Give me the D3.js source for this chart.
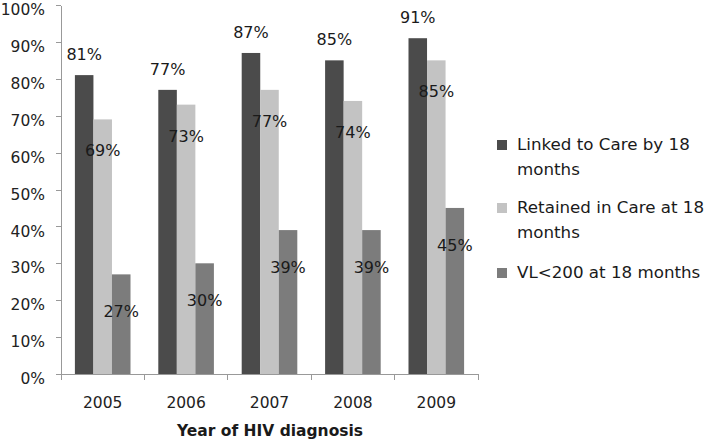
<!DOCTYPE html>
<html lang="en">
<head>
<meta charset="utf-8" />
<title>Care cascade by year of HIV diagnosis</title>
<script src="https://d3js.org/d3.v7.min.js"></script>
<style>
  body{margin:0;background:#fff;font-family:"DejaVu Sans",sans-serif;}
  svg{display:block;}
  .axis path,.axis line{stroke:#999;stroke-width:1px;shape-rendering:crispEdges;}
  .axis text{fill:#222;font-size:15.5px;font-family:"DejaVu Sans",sans-serif;}
  .lbl{fill:#1a1a1a;font-size:16px;text-anchor:middle;}
  .legend text{fill:#1a1a1a;font-size:16.7px;}
</style>
</head>
<body>
<svg id="chart" width="712" height="446"></svg>
<script>
// -------- DATA --------
const YEARS=['2005','2006','2007','2008','2009'];
const SERIES=['Linked to Care by 18 months','Retained in Care at 18 months','VL<200 at 18 months'];
const LINKED=[81,77,87,85,91];
const RETAINED=[69,73,77,74,85];
const VL200=[27,30,39,39,45];
const Y_TICKS=[0,10,20,30,40,50,60,70,80,90,100];
const LEGEND_LINES=[['Linked to Care by 18','months'],['Retained in Care at 18','months'],['VL<200 at 18 months']];

const VALUES=[LINKED,RETAINED,VL200];
const color=d3.scaleOrdinal().domain(SERIES).range(['#4b4b4b','#c3c3c3','#7c7c7c']);
// label placement relative to bar top (above for first series, inside for others)
const labelDy=[-15,37,43];

const svg=d3.select('#chart');
const x0=d3.scaleBand().domain(YEARS).range([61,478]).paddingInner(0).paddingOuter(0);
const x1=d3.scaleBand().domain(SERIES).range([0,x0.bandwidth()]).paddingInner(0).paddingOuter(0.75);
const y=d3.scaleLinear().domain([0,100]).range([374,5]);

// y axis (labels sit a little below their ticks, as in the original)
svg.append('g').attr('class','axis').attr('transform','translate(61,0)')
  .call(d3.axisLeft(y).tickValues(Y_TICKS).tickSize(5).tickSizeOuter(0).tickPadding(11).tickFormat(d=>d+'%'))
  .selectAll('text').attr('dy','0.62em');

// x axis: labels and boundary ticks
const xa=svg.append('g').attr('class','axis').attr('transform','translate(0,374)');
xa.call(d3.axisBottom(x0).tickSize(0).tickPadding(23));
const edges=YEARS.map(d=>x0(d)).concat([x0(YEARS[YEARS.length-1])+x0.bandwidth()]);
xa.selectAll('line.edge').data(edges).enter().append('line').attr('class','edge')
  .attr('x1',d=>d).attr('x2',d=>d).attr('y1',0).attr('y2',6);

svg.append('text').attr('x',270).attr('y',436).attr('text-anchor','middle')
  .attr('font-weight','bold').attr('font-size','15.5px').attr('fill','#1a1a1a')
  .text('Year of HIV diagnosis');

// bars
const rows=SERIES.flatMap((s,si)=>YEARS.map((yr,i)=>({s,si,yr,v:VALUES[si][i]})));
svg.append('g').selectAll('rect').data(rows).enter().append('rect')
  .attr('x',d=>x0(d.yr)+x1(d.s)).attr('width',x1.bandwidth())
  .attr('y',d=>y(d.v)).attr('height',d=>y(0)-y(d.v))
  .attr('fill',d=>color(d.s));

svg.append('g').selectAll('text').data(rows).enter().append('text').attr('class','lbl')
  .attr('x',d=>x0(d.yr)+x1(d.s)+x1.bandwidth()/2)
  .attr('y',d=>y(d.v)+labelDy[d.si])
  .text(d=>d.v+'%');

// legend
const leg=svg.append('g').attr('class','legend').attr('transform','translate(497,0)');
const legTop=[150,213,278];
LEGEND_LINES.forEach((lines,i)=>{
  const g=leg.append('g').attr('transform',`translate(0,${legTop[i]})`);
  g.append('rect').attr('x',0).attr('y',-10).attr('width',10).attr('height',10).attr('fill',color(SERIES[i]));
  lines.forEach((t,j)=>g.append('text').attr('x',20).attr('y',j*25).text(t));
});
</script>
</body>
</html>
